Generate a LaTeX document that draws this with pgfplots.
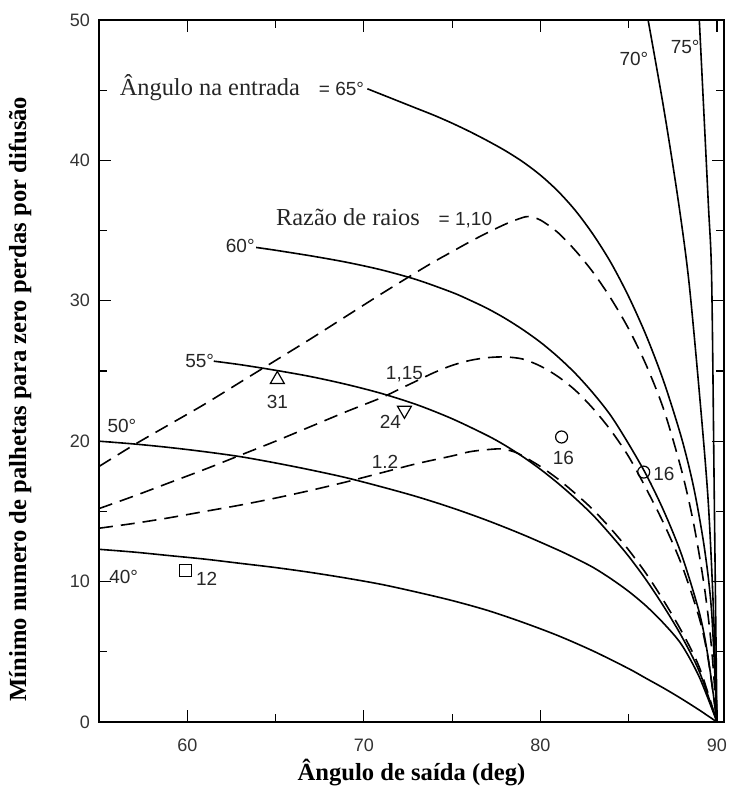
\documentclass[border=0pt]{standalone}
\usepackage{pgfplots}
\pgfplotsset{compat=1.18}
\usepackage{fontspec}
\setmainfont{Liberation Sans}
\newfontfamily\serif{Liberation Serif}
\begin{document}
\begin{tikzpicture}
\begin{axis}[
  scale only axis, width=312.5pt, height=351pt,
  xmin=55, xmax=90.4, ymin=0, ymax=50,
  xtick={60,70,80,90}, minor xtick={65,75,85},
  ytick={0,10,...,50}, minor ytick={5,15,...,45},
  tick align=inside, major tick length=6pt, minor tick length=4pt,
  tick style={black, line width=0.6pt},
  axis line style={line width=0.9pt},
  /pgf/number format/assume math mode=true,
  tick label style={font=\fontsize{9}{10}\selectfont, color=black!80},
  xticklabel style={yshift=-5pt},
  yticklabel style={xshift=-1pt},
  xlabel={\serif\bfseries Ângulo de saída (deg)},
  ylabel={\serif\bfseries Mínimo numero de palhetas para zero perdas por difusão},
  label style={font=\fontsize{12.3}{13}\selectfont},
  xlabel style={at={(axis description cs:0.5,-0.0726)}, anchor=center},
  ylabel style={at={(axis description cs:-0.1264,0.46)}, anchor=center},
  every axis plot/.append style={black, line width=0.8pt},
  dsh/.style={dash pattern=on 7pt off 4pt},
]
% 40 deg
\addplot[smooth, tension=0.5] coordinates {(55,12.3) (57,12.1) (59,11.85) (61,11.6) (63,11.3) (65,11.0) (67,10.65) (69,10.25) (71,9.8) (73,9.25) (75,8.65) (77,7.95) (79,7.1) (81,6.15) (83,5.05) (85,3.8) (86,3.1) (87,2.4) (88,1.65) (89,0.85) (90,0)};
% 50 deg
\addplot[smooth, tension=0.5] coordinates {(55,20.0) (57,19.8) (59,19.55) (61,19.25) (63,18.9) (65,18.45) (67,17.95) (69,17.4) (71,16.75) (73,16.05) (75,15.25) (77,14.35) (79,13.35) (81,12.25) (82,11.65) (83,11.0) (84,10.2) (85,9.3) (86,8.25) (87,7.0) (88,5.5) (89,3.2) (90,0)};
% 55 deg
\addplot[smooth, tension=0.5] coordinates {(61.5,25.7) (63,25.45) (65,25.05) (67,24.6) (69,24.05) (71,23.4) (73,22.6) (75,21.6) (77,20.4) (78,19.7) (79,18.9) (80,18.0) (81,17.0) (82,15.9) (83,14.7) (84,13.3) (85,11.8) (86,10.1) (87,8.2) (88,6.1) (89,3.6) (90,0)};
% 60 deg
\addplot[smooth, tension=0.5] coordinates {(63.9,33.8) (65,33.6) (67,33.2) (69,32.75) (71,32.2) (73,31.5) (75,30.6) (76,30.05) (77,29.45) (78,28.75) (79,27.95) (80,27.05) (81,26.0) (82,24.8) (83,23.4) (84,21.8) (85,19.8) (86,17.6) (87,15.0) (88,11.9) (89,7.8) (89.5,4.6) (90,0)};
% 65 deg
\addplot[smooth, tension=0.5] coordinates {(70.2,45.1) (71,44.7) (72,44.2) (73,43.7) (74,43.2) (75,42.65) (76,42.05) (77,41.4) (78,40.7) (79,39.9) (80,38.95) (81,37.8) (82,36.4) (83,34.7) (84,32.7) (85,30.3) (86,27.5) (87,24.2) (88,20.2) (88.7,16.6) (89.3,12.3) (89.7,7.8) (90,0)};
% 70 deg
\addplot[smooth, tension=0.5] coordinates {(86.1,50) (87.0,43.6) (87.8,37.2) (88.4,31.5) (89.0,23.5) (89.5,15.8) (89.8,8) (90,0)};
% 75 deg
\addplot[smooth, tension=0.5] coordinates {(89.0,50) (89.5,37.2) (89.7,31.5) (89.85,15.8) (90,0)};
% radius ratio 1.10
\addplot[smooth, tension=0.5, dsh] coordinates {(55,18.2) (57,19.75) (59,21.2) (61,22.65) (63,24.2) (65,25.75) (67,27.3) (69,28.9) (71,30.5) (73,32.05) (74,32.8) (75,33.5) (76,34.2) (77,34.85) (78,35.45) (78.7,35.8) (79.3,36.0) (80,35.75) (81,34.85) (82,33.55) (83,32.0) (84,30.15) (85,28.0) (86,25.4) (87,22.2) (88,17.9) (88.7,14.0) (89.3,9.5) (89.7,5.2) (90,0)};
% radius ratio 1.15
\addplot[smooth, tension=0.5, dsh] coordinates {(55,15.2) (57,16.1) (59,17.05) (61,18.0) (63,19.0) (65,20.0) (67,21.05) (69,22.1) (71,23.1) (72,23.7) (73,24.3) (74,24.9) (75,25.4) (76,25.75) (77,25.95) (78,26.0) (79,25.85) (80,25.35) (81,24.6) (82,23.6) (83,22.3) (84,20.75) (85,18.9) (86,16.6) (87,14.1) (88,11.2) (89,7.4) (89.5,4.5) (90,0)};
% radius ratio 1.2
\addplot[smooth, tension=0.5, dsh] coordinates {(55,13.8) (57,14.15) (59,14.55) (61,15.0) (63,15.45) (65,15.95) (67,16.5) (69,17.1) (71,17.75) (73,18.4) (75,18.95) (76,19.25) (77,19.4) (77.8,19.45) (78.5,19.25) (79,18.95) (80,18.2) (81,17.3) (82,16.25) (83,15.1) (84,13.75) (85,12.25) (86,10.55) (87,8.6) (88,6.45) (89,3.9) (90,0)};
% data points
\addplot[only marks, mark=triangle, mark size=4pt, line width=0.6pt] coordinates {(65.1,24.4)};
\addplot[only marks, mark=triangle, mark size=4pt, line width=0.6pt, every mark/.append style={rotate=180}] coordinates {(72.3,22.2)};
\addplot[only marks, mark=o, mark size=3pt, line width=0.6pt] coordinates {(81.2,20.3) (85.85,17.8)};
\addplot[only marks, mark=square, mark size=3pt, line width=0.6pt] coordinates {(59.9,10.8)};
% annotations
\begin{scope}[every node/.style={font=\fontsize{9.5}{10}\selectfont, text=black!85, inner sep=1pt}]
\node[anchor=east] at (axis cs:70.15,45.15) {{\serif\fontsize{12.2}{13}\selectfont Ângulo na entrada}\quad= 65°};
\node[anchor=east] at (axis cs:77.4,35.9) {{\serif\fontsize{12.2}{13}\selectfont Razão de raios}\quad= 1,10};
\node at (axis cs:85.3,47.2) {70°};
\node at (axis cs:88.2,48.1) {75°};
\node at (axis cs:63.0,33.9) {60°};
\node at (axis cs:60.7,25.7) {55°};
\node at (axis cs:56.3,21.1) {50°};
\node at (axis cs:56.4,10.3) {40°};
\node at (axis cs:72.3,24.8) {1,15};
\node at (axis cs:71.2,18.5) {1.2};
\node at (axis cs:65.1,22.8) {31};
\node at (axis cs:71.5,21.4) {24};
\node at (axis cs:81.3,18.8) {16};
\node at (axis cs:87.0,17.7) {16};
\node at (axis cs:61.1,10.2) {12};
\end{scope}
\end{axis}
\pgfresetboundingbox
\path[use as bounding box] ([shift={(-49.5pt,-34pt)}]current axis.south west) rectangle ([shift={(4pt,10pt)}]current axis.north east);
\end{tikzpicture}
\end{document}
